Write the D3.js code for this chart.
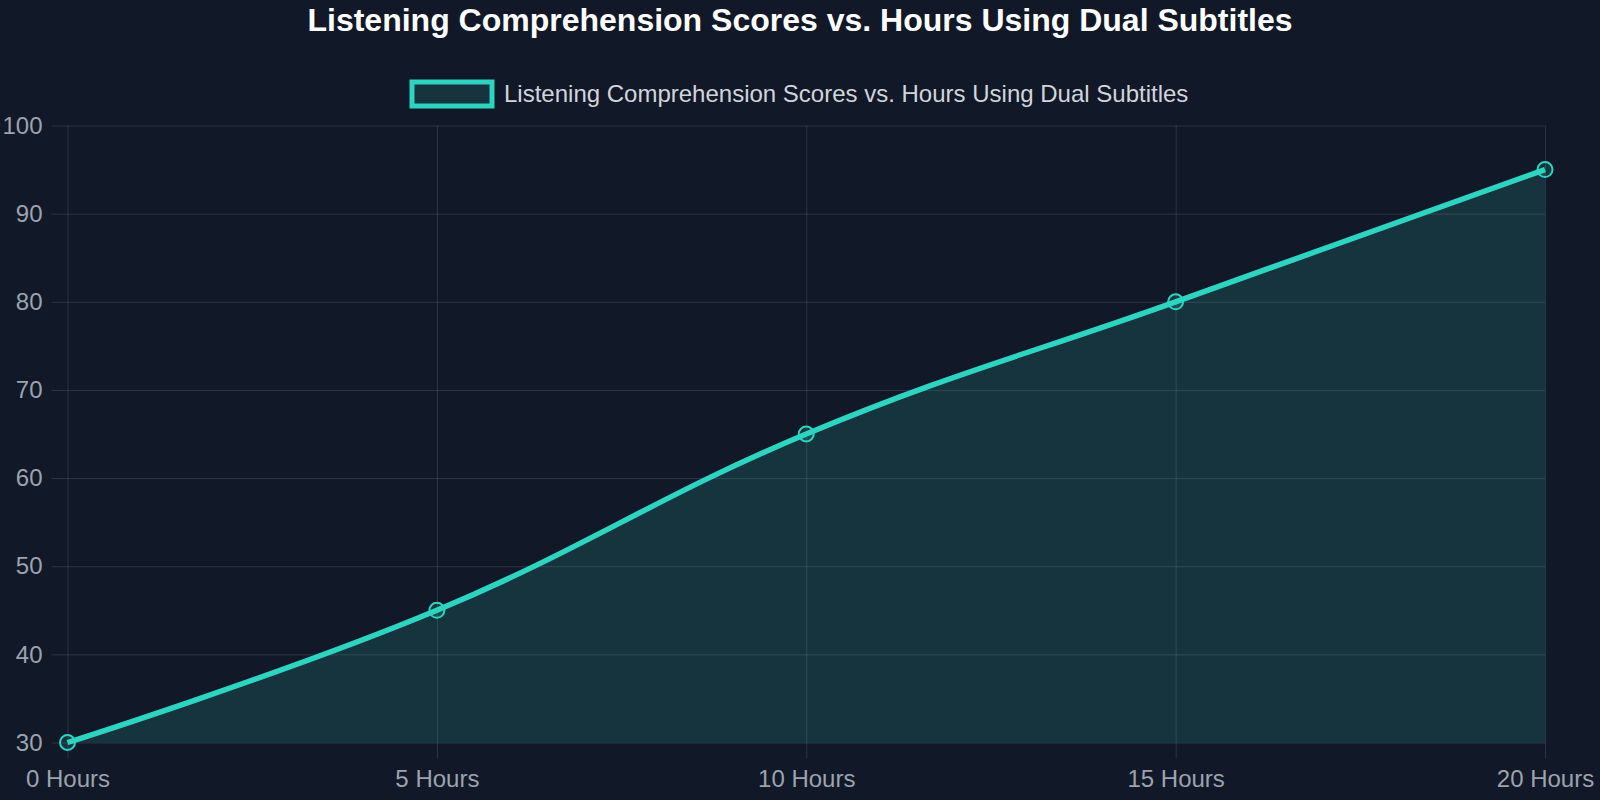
<!DOCTYPE html>
<html>
<head>
<meta charset="utf-8">
<script src="https://cdn.jsdelivr.net/npm/d3@7"></script>
<style>
  html, body { margin: 0; padding: 0; background: #111827; }
  svg { display: block; font-family: "Liberation Sans", Arial, sans-serif; }
</style>
</head>
<body>
<svg id="chart" width="1600" height="800"></svg>
<script>
// data
const title = "Listening Comprehension Scores vs. Hours Using Dual Subtitles"
const seriesName = "Listening Comprehension Scores vs. Hours Using Dual Subtitles"
const hours = ["0 Hours", "5 Hours", "10 Hours", "15 Hours", "20 Hours"]
const scores = [30, 45, 65, 80, 95]
const yTicks = [30, 40, 50, 60, 70, 80, 90, 100]

const lineColor = "#2dd4bf"
const fillColor = "rgba(45, 212, 191, 0.15)"
const gridColor = "rgba(255, 255, 255, 0.12)"

const svg = d3.select("#chart")
const margin = { top: 125.5, right: 55, bottom: 57.5, left: 67.5 }
const width = +svg.attr("width") - margin.left - margin.right
const height = +svg.attr("height") - margin.top - margin.bottom

const data = hours.map((h, i) => ({ label: h, value: scores[i] }))

const x = d3.scalePoint().domain(hours).range([0, width])
const y = d3.scaleLinear().domain([30, 100]).range([height, 0])

// title
svg.append("text")
    .attr("x", 800)
    .attr("y", 31)
    .attr("text-anchor", "middle")
    .attr("fill", "#ffffff")
    .attr("font-size", 32)
    .attr("font-weight", "bold")
    .text(title)

// legend
const legend = svg.append("g").attr("transform", "translate(412,82)")
legend.append("rect")
    .attr("width", 80)
    .attr("height", 24)
    .attr("fill", fillColor)
    .attr("stroke", lineColor)
    .attr("stroke-width", 5)
legend.append("text")
    .attr("x", 92)
    .attr("y", 12)
    .attr("dy", "0.35em")
    .attr("fill", "#d1d5db")
    .attr("font-size", 24)
    .text(seriesName)

const g = svg.append("g")
    .attr("transform", "translate(" + margin.left + "," + margin.top + ")")

// axes with gridlines
const xAxis = g.append("g")
    .attr("class", "axis axis--x")
    .attr("transform", "translate(0," + height + ")")
    .call(d3.axisBottom(x).tickSize(16).tickPadding(11))
xAxis.select(".domain").remove()
xAxis.selectAll(".tick line")
    .attr("y1", -height)
    .attr("stroke", gridColor)
xAxis.selectAll(".tick text")
    .attr("fill", "#9ca3af")
    .attr("font-size", 24)
    .attr("font-family", "Liberation Sans, Arial, sans-serif")

const yAxis = g.append("g")
    .attr("class", "axis axis--y")
    .call(d3.axisLeft(y).tickValues(yTicks).tickSize(16).tickPadding(9))
yAxis.select(".domain").remove()
yAxis.selectAll(".tick line")
    .attr("x1", width)
    .attr("stroke", gridColor)
yAxis.selectAll(".tick text")
    .attr("fill", "#9ca3af")
    .attr("font-size", 24)
    .attr("font-family", "Liberation Sans, Arial, sans-serif")

// area + line
const curve = d3.curveCardinal.tension(-0.2)

g.append("path")
    .datum(data)
    .attr("fill", fillColor)
    .attr("d", d3.area()
        .x(d => x(d.label))
        .y0(height)
        .y1(d => y(d.value))
        .curve(curve))

g.append("path")
    .datum(data)
    .attr("fill", "none")
    .attr("stroke", lineColor)
    .attr("stroke-width", 5.5)
    .attr("d", d3.line()
        .x(d => x(d.label))
        .y(d => y(d.value))
        .curve(curve))

g.selectAll(".dot")
  .data(data)
  .enter().append("circle")
    .attr("class", "dot")
    .attr("cx", d => x(d.label))
    .attr("cy", d => y(d.value))
    .attr("r", 7.5)
    .attr("fill", fillColor)
    .attr("stroke", lineColor)
    .attr("stroke-width", 2)
</script>
</body>
</html>
